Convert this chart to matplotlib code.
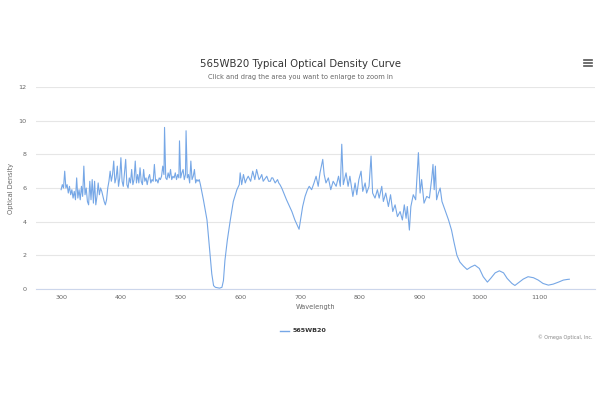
"""565WB20 optical density curve, redrawn in the Highcharts look."""
import matplotlib
matplotlib.use("Agg")
import matplotlib.pyplot as plt
from matplotlib.lines import Line2D

LINE = "#76a7e6"
GRID = "#e6e6e6"
TEXT = "#333333"
MUTED = "#666666"

TITLE = "565WB20 Typical Optical Density Curve"
SUBTITLE = "Click and drag the area you want to enlarge to zoom in"
SERIES = "565WB20"
CREDIT = "\u00a9 Omega Optical, Inc."

X_TICKS = [300, 400, 500, 600, 700, 800, 900, 1000, 1100]
Y_TICKS = [0, 2, 4, 6, 8, 10, 12]

# wavelength (nm) / optical density
wavelength = [
    300, 302, 304, 306, 308, 310, 312, 314, 316, 318, 320, 322, 324, 326,
    328, 330, 332, 334, 336, 338, 340, 342, 344, 346, 348, 350, 352, 354,
    356, 358, 360, 362, 364, 366, 368, 370, 372, 374, 376, 378, 380, 382,
    384, 386, 388, 390, 392, 394, 396, 398, 400, 402, 404, 406, 408, 410,
    412, 414, 416, 418, 420, 422, 424, 426, 428, 430, 432, 434, 436, 438,
    440, 442, 444, 446, 448, 450, 452, 454, 456, 458, 460, 462, 464, 466,
    468, 470, 472, 473, 475, 477, 479, 481, 483, 485, 487, 489, 491, 493,
    495, 497, 498, 500, 502, 504, 506, 508, 509, 511, 513, 515, 517, 519,
    521, 523, 525, 527, 529, 531, 533, 538, 544, 548, 552, 555, 558,
    565, 569, 571.5, 574, 578, 583, 588, 594, 598, 599.5, 602, 605, 608, 610,
    613, 617, 620.5, 624, 627, 631, 633, 635.6, 638, 640, 644, 647, 650, 652,
    654, 658, 662, 664, 666, 669,
    677, 686, 691, 698, 704, 708, 712, 715, 719, 723, 726.5, 730, 733, 737.6,
    740, 743, 747, 751, 755, 760, 764, 767, 769.4, 772, 776.6, 780, 783, 788,
    791.7, 794.5, 798, 801.7, 804.5, 808.5, 811, 815, 818.4, 821, 825, 829,
    832, 836.3, 839, 843, 847.4, 851, 854.7, 858.6, 862.5, 867, 870.8, 874,
    877, 879, 882.5, 885, 889, 893, 897.6, 900.4, 903, 907, 911.5, 916, 920,
    922, 924, 926, 928, 931, 934, 937, 942, 948, 953, 957, 962, 967, 973,
    979, 985, 992, 999.5, 1006, 1013, 1018.5, 1026, 1033, 1040, 1046, 1054,
    1059, 1065, 1073, 1081, 1090, 1098, 1106, 1115, 1123, 1132, 1140, 1147,
    1150,
]
density = [
    5.9, 6.2, 6.0, 7.0, 6.0, 6.2, 5.7, 6.1, 5.6, 5.9, 5.4, 5.8, 5.3, 6.6,
    5.4, 5.9, 5.3, 6.1, 5.5, 7.3, 5.6, 6.0, 5.2, 5.0, 6.4, 5.3, 6.5, 5.1,
    6.4, 5.0, 5.5, 6.3, 5.6, 6.0, 5.8, 5.5, 5.2, 5.0, 5.3, 6.0, 6.4, 7.0,
    6.4, 6.8, 7.6, 6.3, 6.6, 7.3, 6.1, 6.6, 7.8, 6.4, 6.1, 6.9, 7.7, 6.2,
    6.0, 6.6, 6.3, 7.1, 6.2, 6.5, 7.6, 6.3, 6.8, 6.3, 7.2, 6.4, 6.2, 7.1,
    6.4, 6.6, 6.2, 6.6, 6.8, 6.3, 6.5, 6.4, 7.4, 6.4, 6.5, 6.3, 6.6, 6.5,
    6.7, 7.3, 6.8, 9.6, 6.6, 6.5, 6.9, 6.6, 7.1, 6.5, 6.7, 6.6, 6.9, 6.5,
    6.8, 6.6, 8.8, 6.6, 6.9, 7.1, 6.5, 6.8, 9.4, 6.6, 6.8, 6.3, 7.6, 6.5,
    6.7, 7.1, 6.3, 6.5, 6.4, 6.5, 6.2, 5.3, 4.1, 2.5, 0.9, 0.2, 0.1,
    0.05, 0.1, 0.5, 1.7, 2.9, 4.1, 5.2, 5.9, 6.2, 6.9, 6.2, 6.8, 6.3, 6.5,
    6.7, 6.4, 7.0, 6.5, 7.1, 6.5, 6.6, 6.8, 6.4, 6.5, 6.7, 6.4, 6.4, 6.6,
    6.6, 6.3, 6.5, 6.3, 6.2, 6.0,
    5.3, 4.6, 4.1, 3.55, 4.9, 5.5, 5.9, 6.1, 5.9, 6.3, 6.7, 6.1, 6.9, 7.7,
    6.8, 6.3, 6.6, 5.9, 6.4, 6.1, 6.7, 6.1, 8.6, 6.2, 6.9, 6.1, 6.7, 5.5,
    6.3, 5.6, 6.5, 7.0, 5.8, 6.3, 5.7, 6.1, 7.9, 5.7, 5.4, 5.9,
    5.4, 6.1, 5.2, 5.7, 4.9, 5.6, 4.6, 5.0, 4.3, 4.6, 4.1, 5.0,
    4.2, 4.9, 3.5, 4.9, 5.6, 5.3, 8.1, 5.7, 6.5, 5.1, 5.5, 5.4, 6.6,
    7.4, 5.9, 7.3, 5.3, 5.7, 6.0, 5.2, 4.7, 4.1, 3.5, 2.8, 2.0, 1.6, 1.36,
    1.16, 1.3, 1.42, 1.22, 0.73, 0.41, 0.63, 0.96, 1.08, 0.96, 0.63, 0.33,
    0.21, 0.37, 0.59, 0.73, 0.67, 0.53, 0.33, 0.23, 0.29, 0.41, 0.53, 0.57,
    0.58,
]

plt.rcParams.update({
    "font.family": "DejaVu Sans",
    "text.color": TEXT,
})

fig = plt.figure(figsize=(6, 4), dpi=100)
ax = fig.add_axes([0.06, 0.2775, 0.9317, 0.505])

ax.plot(wavelength, density, color=LINE, linewidth=0.8)

ax.set_xlim(258, 1193)
ax.set_ylim(0, 12)
ax.set_xticks(X_TICKS)
ax.set_yticks(Y_TICKS)
ax.tick_params(axis="x", length=0, labelsize=4.6, labelcolor=MUTED, pad=4.5)
ax.tick_params(axis="y", length=0, labelsize=4.6, labelcolor=MUTED, pad=7)
ax.grid(axis="y", color=GRID, linewidth=0.8)
ax.set_axisbelow(True)
ax.spines[["top", "right", "left"]].set_visible(False)
ax.spines["bottom"].set_color("#ccd6eb")
ax.spines["bottom"].set_linewidth(0.8)

ax.set_xlabel("Wavelength", fontsize=4.8, color=MUTED)
ax.set_ylabel("Optical Density", fontsize=4.8, color=MUTED)
ax.xaxis.set_label_coords(0.5, -0.072)
ax.yaxis.set_label_coords(-0.040, 0.5)

fig.text(0.5, 0.840, TITLE, ha="center", va="center", fontsize=7.3, color=TEXT)
fig.text(0.5, 0.8075, SUBTITLE, ha="center", va="center", fontsize=4.8, color=MUTED)

# legend entry under the plot
fig.add_artist(Line2D([0.467, 0.482], [0.1725, 0.1725], color=LINE, linewidth=1.0))
fig.text(0.487, 0.1725, SERIES, ha="left", va="center", fontsize=4.6,
         fontweight="bold", color=TEXT)

fig.text(0.988, 0.158, CREDIT, ha="right", va="center", fontsize=3.5, color="#888888")

# hamburger menu button
for yy in (0.835, 0.843, 0.851):
    fig.add_artist(Line2D([0.973, 0.987], [yy, yy], color="#555555", linewidth=1.2))

fig.savefig("out.png", dpi=100)
